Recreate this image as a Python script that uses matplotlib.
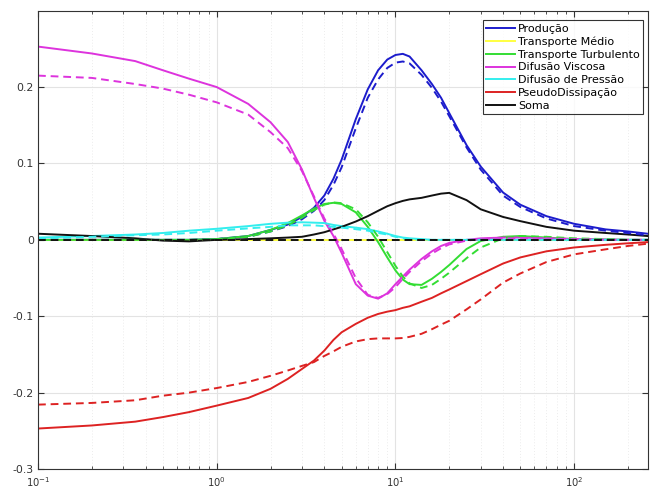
import matplotlib
matplotlib.use("Agg")
import matplotlib.pyplot as plt
from matplotlib.ticker import FixedLocator, FuncFormatter, LogLocator, NullFormatter

# y+ positions (log axis)
yplus = [0.1, 0.2, 0.35, 0.5, 0.7, 1, 1.5, 2, 2.5, 3, 3.5, 4, 4.5, 5, 6, 7, 8, 9,
         10, 11, 12, 14, 16, 18, 20, 25, 30, 40, 50, 70, 100, 150, 200, 258]

# solid curves
producao = [0, 0, 0, 0, 0, 0.001, 0.005, 0.013, 0.020, 0.030, 0.042, 0.058, 0.080, 0.105,
            0.158, 0.197, 0.222, 0.236, 0.242, 0.2435, 0.240, 0.222, 0.204, 0.186, 0.166,
            0.124, 0.096, 0.062, 0.046, 0.031, 0.021, 0.0137, 0.011, 0.008]
transp_medio = [0.0] * 34
transp_turb = [0, 0, 0, 0, 0, 0.001, 0.005, 0.013, 0.022, 0.032, 0.041, 0.047, 0.0485, 0.047,
               0.036, 0.017, -0.003, -0.023, -0.040, -0.052, -0.058, -0.059, -0.051, -0.042,
               -0.033, -0.012, -0.0015, 0.004, 0.005, 0.003, 0.001, 0.0005, 0, 0]
difus_visc = [0.253, 0.244, 0.234, 0.222, 0.211, 0.200, 0.178, 0.154, 0.128, 0.092, 0.055,
              0.025, 0.005, -0.017, -0.058, -0.073, -0.077, -0.070, -0.058, -0.048, -0.039,
              -0.025, -0.015, -0.008, -0.004, 0.0, 0.002, 0.003, 0.003, 0.002, 0.001, 0.0005, 0, 0]
difus_press = [0.003, 0.005, 0.007, 0.009, 0.012, 0.0145, 0.018, 0.021, 0.0225, 0.023, 0.0225,
               0.022, 0.0195, 0.018, 0.016, 0.014, 0.011, 0.008, 0.005, 0.003, 0.002, 0.001,
               0, 0, 0, 0, 0, 0, 0, 0, 0, 0, 0, 0]
pseudo_dissip = [-0.247, -0.243, -0.238, -0.232, -0.2255, -0.217, -0.207, -0.195, -0.182, -0.169,
                 -0.158, -0.145, -0.131, -0.121, -0.110, -0.102, -0.097, -0.094, -0.092, -0.089,
                 -0.087, -0.081, -0.076, -0.070, -0.065, -0.054, -0.045, -0.031, -0.023, -0.015,
                 -0.010, -0.0065, -0.0045, -0.003]
soma = [0.008, 0.005, 0.002, -0.001, -0.002, 0.0, 0.001, 0.002, 0.003, 0.004, 0.007, 0.010,
        0.0137, 0.017, 0.024, 0.031, 0.038, 0.044, 0.048, 0.051, 0.053, 0.055, 0.058, 0.0605,
        0.0615, 0.052, 0.040, 0.030, 0.0245, 0.017, 0.012, 0.009, 0.007, 0.005]

# dashed curves
producao_d = [0, 0, 0, 0, 0, 0.001, 0.004, 0.011, 0.018, 0.027, 0.038, 0.052, 0.072, 0.095,
              0.146, 0.186, 0.210, 0.225, 0.232, 0.2335, 0.231, 0.216, 0.199, 0.181, 0.162,
              0.121, 0.092, 0.058, 0.043, 0.028, 0.018, 0.012, 0.009, 0.006]
transp_medio_d = [0.0] * 34
transp_turb_d = [0, 0, 0, 0, 0, 0.001, 0.004, 0.011, 0.019, 0.029, 0.039, 0.046, 0.049, 0.048,
                 0.040, 0.023, 0.004, -0.016, -0.034, -0.048, -0.057, -0.063, -0.059, -0.051,
                 -0.043, -0.024, -0.010, 0.002, 0.005, 0.004, 0.002, 0.001, 0, 0]
difus_visc_d = [0.215, 0.212, 0.204, 0.198, 0.190, 0.180, 0.164, 0.141, 0.120, 0.090, 0.057,
                0.028, 0.008, -0.012, -0.050, -0.072, -0.076, -0.071, -0.062, -0.051, -0.042,
                -0.028, -0.018, -0.011, -0.006, -0.001, 0.001, 0.002, 0.002, 0.002, 0.001, 0, 0, 0]
difus_press_d = [0.002, 0.004, 0.006, 0.007, 0.009, 0.012, 0.015, 0.017, 0.019, 0.019, 0.019,
                 0.018, 0.017, 0.016, 0.014, 0.012, 0.009, 0.007, 0.004, 0.002, 0.001, 0,
                 0, 0, 0, 0, 0, 0, 0, 0, 0, 0, 0, 0]
pseudo_dissip_d = [-0.2157, -0.2135, -0.210, -0.204, -0.200, -0.194, -0.186, -0.178, -0.171,
                   -0.165, -0.160, -0.152, -0.146, -0.140, -0.133, -0.130, -0.129, -0.129, -0.129,
                   -0.1285, -0.127, -0.123, -0.117, -0.111, -0.106, -0.091, -0.078, -0.056, -0.044,
                   -0.029, -0.019, -0.0124, -0.008, -0.005]
soma_d = [0.0] * 34

labels = ["Produção", "Transporte Médio", "Transporte Turbulento", "Difusão Viscosa",
          "Difusão de Pressão", "PseudoDissipação", "Soma"]
colors = ["#1c1ccc", "#ffff40", "#33dd33", "#dd33dd", "#33eeee", "#dd2222", "#111111"]
solid = [producao, transp_medio, transp_turb, difus_visc, difus_press, pseudo_dissip, soma]
dashed = [producao_d, transp_medio_d, transp_turb_d, difus_visc_d, difus_press_d,
          pseudo_dissip_d, soma_d]

plt.rcParams['axes.unicode_minus'] = False
fig = plt.figure(figsize=(6.52, 4.88), dpi=100)
ax = fig.add_axes([0.0583, 0.0389, 0.9351, 0.9392])

for s, c, lab in zip(solid, colors, labels):
    ax.plot(yplus, s, color=c, lw=1.4, label=lab)
for d, c in zip(dashed, colors):
    ax.plot(yplus, d, color=c, lw=1.4, ls=(0, (4, 2.5)))

ax.set_xscale("log")
ax.set_xlim(0.1, 258)
ax.set_ylim(-0.3, 0.3)
ax.yaxis.set_major_locator(FixedLocator([-0.3, -0.2, -0.1, 0, 0.1, 0.2]))
ax.yaxis.set_major_formatter(FuncFormatter(lambda v, p: "%g" % round(v, 2)))
ax.xaxis.set_minor_locator(LogLocator(base=10, subs=range(2, 10), numticks=20))
ax.xaxis.set_minor_formatter(NullFormatter())

ax.grid(True, which="major", color="#e3e3e3", lw=0.8, ls="-")
ax.grid(True, which="minor", axis="x", color="#ececec", lw=0.7, ls=(0, (1, 2)))
ax.set_axisbelow(True)

ax.tick_params(which="both", direction="in", top=True, right=True, colors="#333333",
               labelcolor="#333333")
ax.tick_params(which="major", length=4, width=0.8)
ax.tick_params(which="minor", length=2.5, width=0.6)
ax.tick_params(axis="x", pad=4.3, labelsize=7.2)
ax.tick_params(axis="y", pad=3, labelsize=7.8)
for sp in ax.spines.values():
    sp.set_color("#333333")
    sp.set_linewidth(0.8)

leg = ax.legend(loc="upper right", fontsize=8, frameon=True, fancybox=False,
                handlelength=2.6, labelspacing=0.25, borderpad=0.3, handletextpad=0.3,
                bbox_to_anchor=(0.9965, 0.984), borderaxespad=0.2)
leg.get_frame().set_edgecolor("black")
leg.get_frame().set_linewidth(0.8)

fig.savefig("out.png", dpi=100)
